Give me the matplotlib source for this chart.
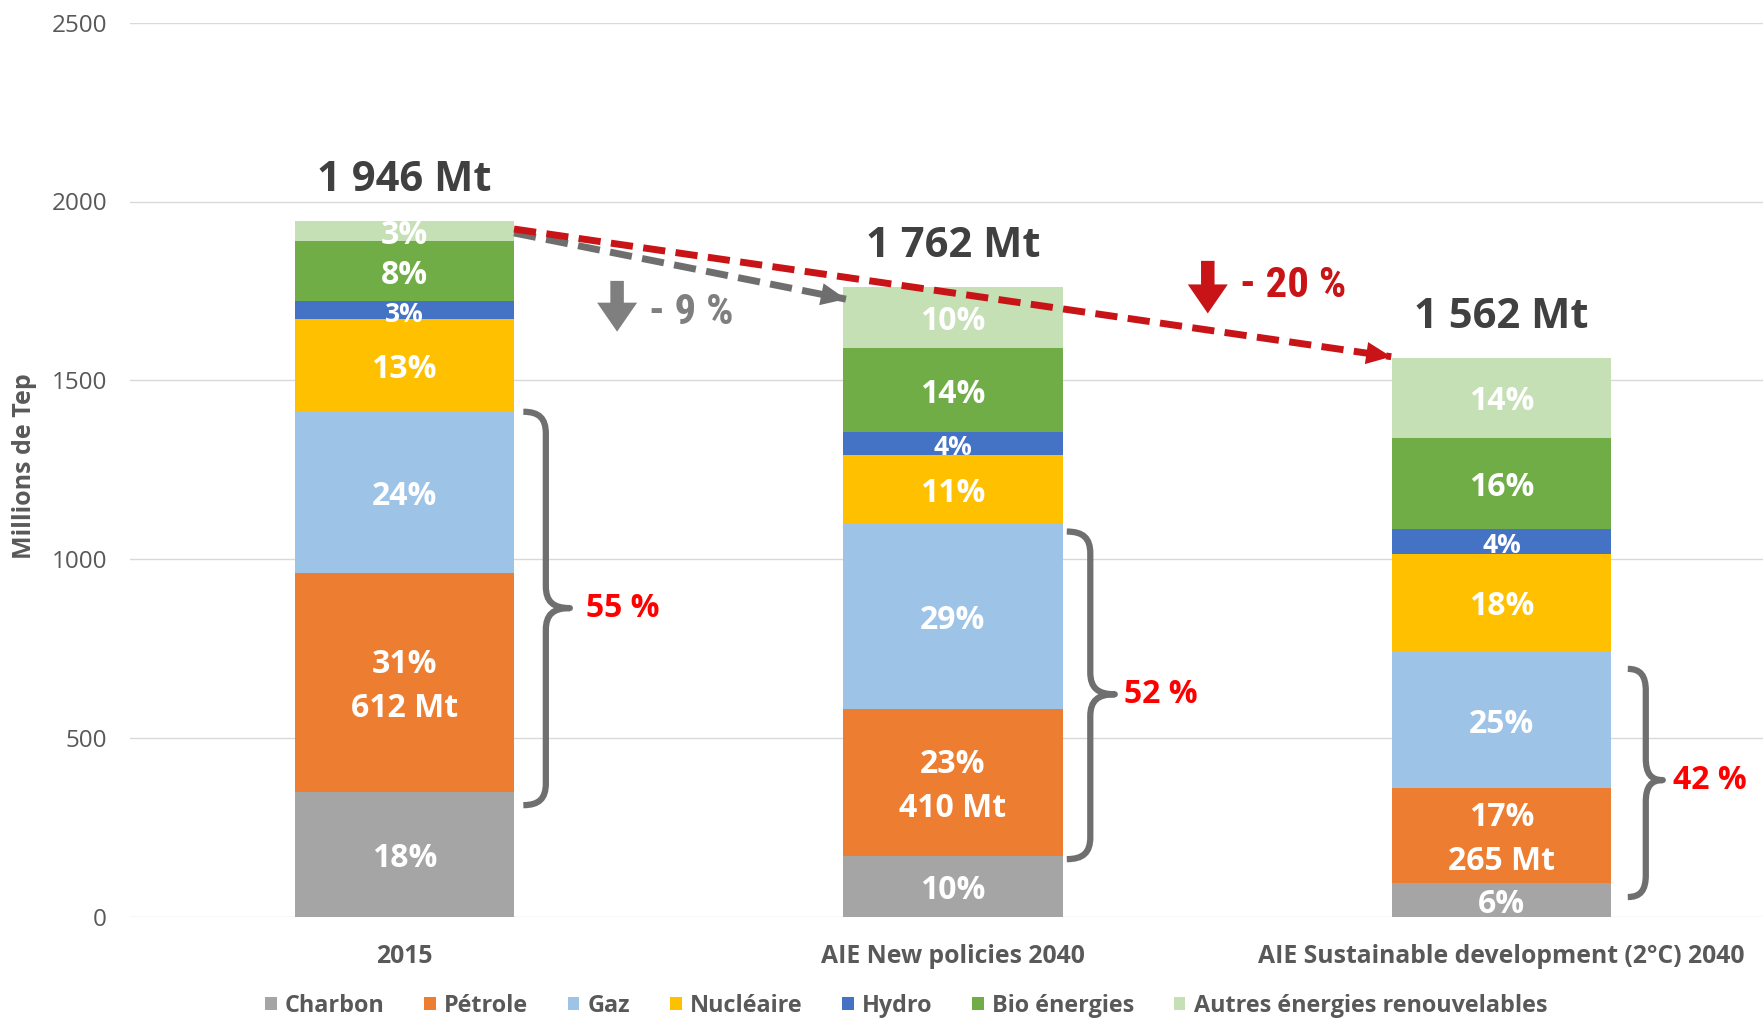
import matplotlib
matplotlib.use("Agg")
import matplotlib.pyplot as plt
from matplotlib.patches import Patch, FancyArrow, PathPatch
from matplotlib.path import Path
from matplotlib import font_manager
import numpy as np
import os

# ---------------- data ----------------
scenarios = ["2015", "AIE New policies 2040", "AIE Sustainable development (2°C) 2040"]
series_names = ["Charbon", "Pétrole", "Gaz", "Nucléaire", "Hydro", "Bio énergies",
                "Autres énergies renouvelables"]
charbon = [349, 170, 94]
petrole = [612, 410, 265]
gaz = [453, 518, 383]
nucleaire = [257, 192, 273]
hydro = [52, 65, 70]
bio = [166, 236, 255]
autres = [57, 171, 222]

lbl_charbon = ["18%", "10%", "6%"]
lbl_petrole = ["31%\n612 Mt", "23%\n410 Mt", "17%\n265 Mt"]
lbl_gaz = ["24%", "29%", "25%"]
lbl_nucleaire = ["13%", "11%", "18%"]
lbl_hydro = ["3%", "4%", "4%"]
lbl_bio = ["8%", "14%", "16%"]
lbl_autres = ["3%", "10%", "14%"]

share_labels = ["55 %", "52 %", "42 %"]
change_labels = ["- 9 %", "- 20 %"]

colors = ["#A5A5A5", "#ED7D31", "#9DC3E6", "#FFC000", "#4472C4", "#70AD47", "#C5E0B4"]

values = [charbon, petrole, gaz, nucleaire, hydro, bio, autres]
labels = [lbl_charbon, lbl_petrole, lbl_gaz, lbl_nucleaire, lbl_hydro, lbl_bio, lbl_autres]

# ---------------- condensed bold font lookup ----------------
def find_condensed_bold():
    prefs = ["LiberationSansNarrow-Bold", "RobotoCondensed-Bold", "NotoSans-CondensedBold",
             "OpenSans-CondensedBold", "OpenSansCondensed-Bold", "DejaVuSansCondensed-Bold"]
    files = [f.fname for f in font_manager.fontManager.ttflist]
    for p in prefs:
        for fn in files:
            if os.path.basename(fn).split(".")[0].replace(" ", "") == p:
                return font_manager.FontProperties(fname=fn)
    for fn in files:
        b = os.path.basename(fn).lower()
        if ("condensed" in b or "narrow" in b) and "bold" in b and "extra" not in b \
                and "semi" not in b and "italic" not in b:
            return font_manager.FontProperties(fname=fn)
    return font_manager.FontProperties(family="DejaVu Sans", weight="bold")


cond_fp = find_condensed_bold()

# ---------------- figure ----------------
W, H = 1763, 1018
fig = plt.figure(figsize=(W / 100, H / 100), dpi=100)
ax = fig.add_axes([130 / W, (H - 916.7) / H, 1 - 130 / W, (916.7 - 22.7) / H])

x = np.arange(len(scenarios))
bw = 0.40
bottom = np.zeros(len(scenarios))
for vals, col, lbls, name in zip(values, colors, labels, series_names):
    cont = ax.bar(x, vals, bw, bottom=bottom, color=col, zorder=3, label=name)
    fs = 19 if name == "Hydro" else 23
    anns = ax.bar_label(cont, labels=lbls, label_type="center", color="white",
                        fontsize=fs, fontweight="bold", family="Open Sans",
                        linespacing=1.45, zorder=5)
    for a in anns:
        a.xyann = (0, -3)
    bottom = bottom + np.array(vals)
totals = bottom

ax.set_ylim(0, 2500)
ax.set_xlim(-0.5, 2.5 - 12.8 / 548.6)
ax.set_yticks([0, 500, 1000, 1500, 2000, 2500])
ax.yaxis.grid(True, color="#D9D9D9", lw=1.0, zorder=0)
ax.set_axisbelow(True)
for s in ax.spines.values():
    s.set_visible(False)
ax.tick_params(axis="both", length=0)
ax.tick_params(axis="y", pad=16.5, labelsize=17.5, labelcolor="#595959")
ax.tick_params(axis="x", pad=19.5, labelsize=17.8, labelcolor="#595959")
ax.set_xticks(x)
ax.set_xticklabels(scenarios, fontweight="bold", family="Open Sans")
for t in ax.get_yticklabels():
    t.set_family("Open Sans")

fig.text(25 / W, 1 - 466.6 / H, "Millions de Tep", rotation=90, ha="center", va="center",
         fontsize=18, fontweight="bold", color="#595959", family="Open Sans")

# totals above bars
for xi, t in zip(x, totals):
    ax.text(xi, t + 83, f"{int(round(t)):,}".replace(",", " ") + " Mt", ha="center",
            va="baseline", fontsize=30, fontweight="bold", color="#404040",
            family="Open Sans", zorder=6)

# ---------------- braces ----------------
PX = 1 / 548.6     # data-x per pixel
PY = 500 / 178.8   # data-y per pixel


def brace(x0, ytop, ybot, ymid, warm, wtip, color="#6F6F6F"):
    w = warm * PX
    x1 = x0 + w
    xt = x1 + wtip * PX
    r = 22 * PY
    verts = [(x0, ytop),
             (x0 + 0.7 * w, ytop), (x1, ytop - 0.3 * r), (x1, ytop - r),
             (x1, ymid + r),
             (x1, ymid + 0.3 * r), (x1 + 0.3 * (xt - x1), ymid), (xt, ymid),
             (x1 + 0.3 * (xt - x1), ymid), (x1, ymid - 0.3 * r), (x1, ymid - r),
             (x1, ybot + r),
             (x1, ybot + 0.3 * r), (x0 + 0.7 * w, ybot), (x0, ybot)]
    codes = [Path.MOVETO,
             Path.CURVE4, Path.CURVE4, Path.CURVE4,
             Path.LINETO,
             Path.CURVE4, Path.CURVE4, Path.CURVE4,
             Path.CURVE4, Path.CURVE4, Path.CURVE4,
             Path.LINETO,
             Path.CURVE4, Path.CURVE4, Path.CURVE4]
    ax.add_patch(PathPatch(Path(verts, codes), fill=False, edgecolor=color, lw=4.5,
                           capstyle="butt", joinstyle="round", zorder=6, clip_on=False))


brace_specs = [(0.217, 1412, 312, 863, 22.5, 24), (1.2076, 1077, 161, 622, 23.5, 24.5),
               (2.2302, 693, 55, 382, 18, 17)]
label_x = [0.331, 1.3116, 2.312]
for (x0, yt, yb, ym, wa, wt), lab, lx in zip(brace_specs, share_labels, label_x):
    brace(x0, yt, yb, ym, wa, wt)
    ax.text(lx, ym, lab, ha="left", va="center", fontsize=23,
            fontweight="bold", color="#FF0000", family="Open Sans", zorder=6,
            clip_on=False)

# ---------------- dashed trend arrows ----------------
def dashed_arrow(p0, p1, color):
    ax.plot([p0[0], p1[0]], [p0[1], p1[1]], color=color, lw=5, dashes=(3.2, 1.5),
            dash_capstyle="butt", zorder=7, solid_capstyle="butt")
    d = np.array(p1) - np.array(p0)
    back = np.array(p1) - d * 0.02
    ax.annotate("", xy=p1, xytext=tuple(back),
                arrowprops=dict(arrowstyle="-|>,head_length=18,head_width=8",
                                mutation_scale=1, color=color, lw=0,
                                shrinkA=0, shrinkB=0), zorder=8)


dashed_arrow((0.2, 1912), (0.805, 1727), "#6E6E6E")
dashed_arrow((0.2, 1923), (1.799, 1566), "#C81417")

# ---------------- block down arrows and change labels ----------------
def down_arrow(xc, ytop, ytip, color):
    ax.add_patch(FancyArrow(xc, ytop, 0, -(ytop - ytip), width=13.5 * PX,
                            head_width=40 * PX, head_length=29 * PY,
                            length_includes_head=True, color=color, lw=0, zorder=7))


down_arrow(0.3879, 1778, 1636, "#7F7F7F")
down_arrow(1.4646, 1834, 1687, "#C81417")

t1 = ax.text(0.4458, 1690, change_labels[0], ha="left", va="center",
             fontproperties=cond_fp, color="#7F7F7F", zorder=7)
t2 = ax.text(1.523, 1765, change_labels[1], ha="left", va="center",
             fontproperties=cond_fp, color="#C81417", zorder=7)
for t in (t1, t2):
    t.set_fontsize(31)

# ---------------- legend ----------------
handles = [Patch(facecolor=c, edgecolor="none") for c in colors]
leg = fig.legend(handles, series_names, ncol=7, loc="center",
                 bbox_to_anchor=(906 / W, 1 - 1006 / H), frameon=False,
                 handlelength=0.5, handleheight=0.5, handletextpad=0.35,
                 columnspacing=1.7, prop={"family": "Open Sans", "weight": "bold",
                                          "size": 16.8})
for t in leg.get_texts():
    t.set_color("#595959")

fig.savefig("out.png", dpi=100)
